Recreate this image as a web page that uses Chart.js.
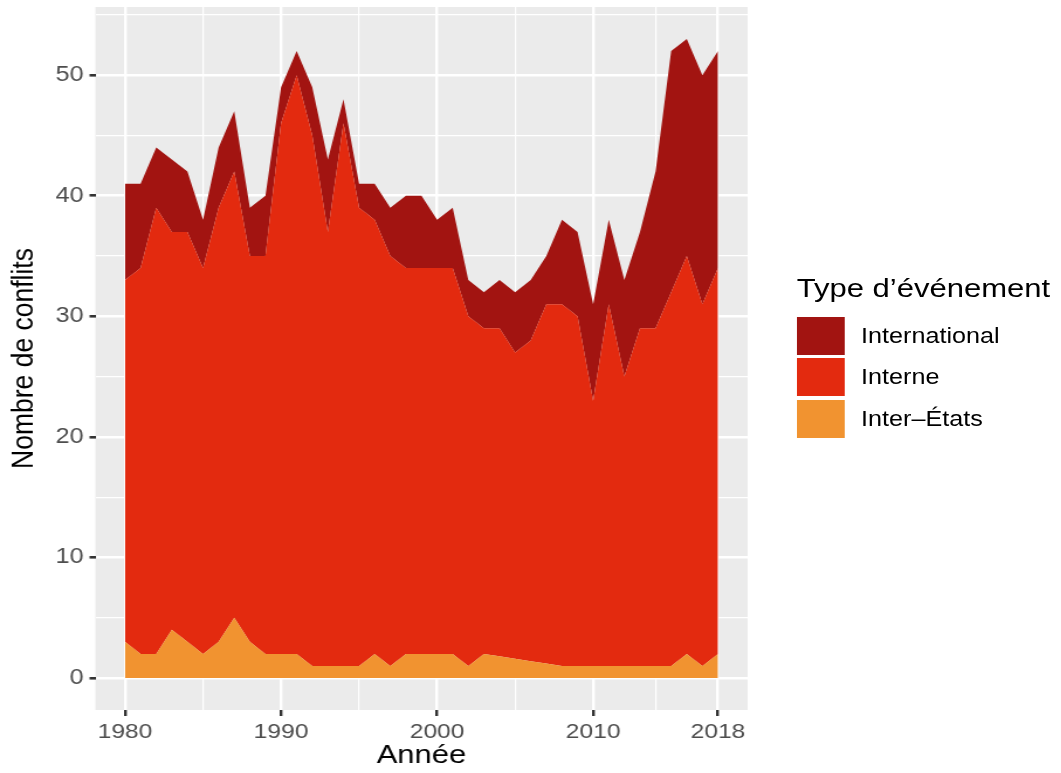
<!DOCTYPE html>
<html lang="fr">
<head>
<meta charset="utf-8">
<script src="https://cdn.jsdelivr.net/npm/chart.js@4.4.1/dist/chart.umd.min.js"></script>
<style>
    html, body { margin: 0; padding: 0; background: #fff; }
    body { width: 1061px; height: 773px; overflow: hidden; position: relative; }
    /* le rendu d'origine est étiré horizontalement (~1.17) */
    #cadre {
        position: absolute; left: 0; top: 0;
        width: 907px; height: 773px;
        transform: scaleX(1.17); transform-origin: 0 0;
    }
    #cadre canvas { position: absolute; left: 0; top: 0; }
    .leg { position: absolute; font-family: "Liberation Sans", Arial, sans-serif; color: #000; }
    .leg-titre { left: 681px; top: 275px; font-size: 26.5px; line-height: 26.5px; white-space: nowrap; }
    .leg-cle { left: 681px; width: 41px; height: 38px; }
    .leg-txt { left: 736px; height: 38px; font-size: 21.5px; display: flex; align-items: center; white-space: nowrap; }
</style>
</head>
<body>
<div id="cadre">
    <canvas id="graficoConflits"></canvas>
    <div class="leg leg-titre">Type d’événement</div>
    <div class="leg leg-cle" style="top:317px;background:#A21411"></div>
    <div class="leg leg-txt" style="top:317px">International</div>
    <div class="leg leg-cle" style="top:358px;background:#E32A0F"></div>
    <div class="leg leg-txt" style="top:358px">Interne</div>
    <div class="leg leg-cle" style="top:400px;background:#F19330"></div>
    <div class="leg leg-txt" style="top:400px">Inter–États</div>
</div>
<script>
const annees = [1980, 1981, 1982, 1983, 1984, 1985, 1986, 1987, 1988, 1989,
                1990, 1991, 1992, 1993, 1994, 1995, 1996, 1997, 1998, 1999,
                2000, 2001, 2002, 2003, 2004, 2005, 2006, 2007, 2008, 2009,
                2010, 2011, 2012, 2013, 2014, 2015, 2016, 2017, 2018];

const interEtats = [3, 2, 2, 4, 3, 2, 3, 5, 3, 2,
                    2, 2, 1, 1, 1, 1, 2, 1, 2, 2,
                    2, 2, 1, 2, 1.8, 1.6, 1.4, 1.2, 1, 1,
                    1, 1, 1, 1, 1, 1, 2, 1, 2];

const interne = [30, 32, 37, 33, 34, 32, 36, 37, 32, 33,
                 44, 48, 44, 36, 45, 38, 36, 34, 32, 32,
                 32, 32, 29, 27, 27.2, 25.4, 26.6, 29.8, 30, 29,
                 22, 30, 24, 28, 28, 31, 33, 30, 32];

const international = [8, 7, 5, 6, 5, 4, 5, 5, 4, 5,
                       3, 2, 4, 6, 2, 2, 3, 4, 6, 6,
                       4, 5, 3, 3, 4, 5, 5, 4, 7, 7,
                       8, 7, 8, 8, 13, 20, 18, 19, 18];

const ticksX = [1980, 1985, 1990, 1995, 2000, 2005, 2010, 2014, 2018];
const labelsX = [1980, 1990, 2000, 2010, 2018];
const ticksY = [0, 5, 10, 15, 20, 25, 30, 35, 40, 45, 50, 55];
const labelsY = [0, 10, 20, 30, 40, 50];

// cores
const COR_INTERNATIONAL = "#A21411";
const COR_INTERNE = "#E32A0F";
const COR_INTER_ETATS = "#F19330";
const FONTE = "'Liberation Sans', Arial, sans-serif";

const pontos = serie => annees.map((a, i) => ({ x: a, y: serie[i] }));

// fundo cinza do painel (ggplot)
const fundoPainel = {
    id: "fundoPainel",
    beforeDraw(chart) {
        const { ctx, chartArea: a } = chart;
        ctx.save();
        ctx.fillStyle = "#EBEBEB";
        ctx.fillRect(a.left, a.top, a.right - a.left, a.bottom - a.top);
        ctx.restore();
    }
};

const serieArea = (label, data, cor, fill) => ({
    label, data: pontos(data),
    borderWidth: 0, borderColor: cor, backgroundColor: cor,
    pointRadius: 0, fill, tension: 0
});

new Chart(document.getElementById("graficoConflits"), {
    type: "line",
    data: {
        datasets: [
            serieArea("Inter–États", interEtats, COR_INTER_ETATS, "origin"),
            serieArea("Interne", interne, COR_INTERNE, "-1"),
            serieArea("International", international, COR_INTERNATIONAL, "-1")
        ]
    },
    options: {
        responsive: true,
        maintainAspectRatio: false,
        animation: false,
        layout: { padding: { top: 7, right: 268, bottom: 0, left: 0 } },
        plugins: { legend: { display: false }, tooltip: { enabled: false } },
        scales: {
            x: {
                type: "linear",
                min: 1978.1, max: 2019.9,
                afterBuildTicks: s => { s.ticks = ticksX.map(v => ({ value: v })); },
                afterFit: s => { s.height = 63; s.paddingLeft = 0; s.paddingRight = 0; },
                border: { display: false },
                grid: {
                    color: "#FFFFFF",
                    lineWidth: c => labelsX.includes(c.tick.value) ? 2.4 : 1.2,
                    tickColor: c => labelsX.includes(c.tick.value) ? "#333333" : "rgba(0,0,0,0)",
                    tickLength: 6
                },
                ticks: {
                    autoSkip: false, maxRotation: 0, padding: 4,
                    color: "#4D4D4D", font: { family: FONTE, size: 21 },
                    callback: v => labelsX.includes(v) ? String(v) : ""
                },
                title: { display: true, text: "Année", color: "#000", font: { family: FONTE, size: 26.5 }, padding: { top: 0, bottom: 1 } }
            },
            y: {
                stacked: true,
                min: -2.65, max: 55.65,
                afterBuildTicks: s => { s.ticks = ticksY.map(v => ({ value: v })); },
                // on garde le panneau fixe, sans marge ajoutée pour les étiquettes
                afterFit: s => { s.width = 81.5; s.paddingTop = 0; s.paddingBottom = 0; },
                border: { display: false },
                grid: {
                    color: "#FFFFFF",
                    lineWidth: c => labelsY.includes(c.tick.value) ? 2.6 : 1.3,
                    tickColor: c => labelsY.includes(c.tick.value) ? "#333333" : "rgba(0,0,0,0)",
                    tickLength: 5
                },
                ticks: {
                    autoSkip: false, padding: 5,
                    color: "#4D4D4D", font: { family: FONTE, size: 21.5 },
                    callback: v => labelsY.includes(v) ? String(v) : ""
                },
                title: { display: true, text: "Nombre de conflits", color: "#000", font: { family: FONTE, size: 26.5 }, padding: { top: 5, bottom: 0 } }
            }
        }
    },
    plugins: [fundoPainel]
});
</script>
</body>
</html>
